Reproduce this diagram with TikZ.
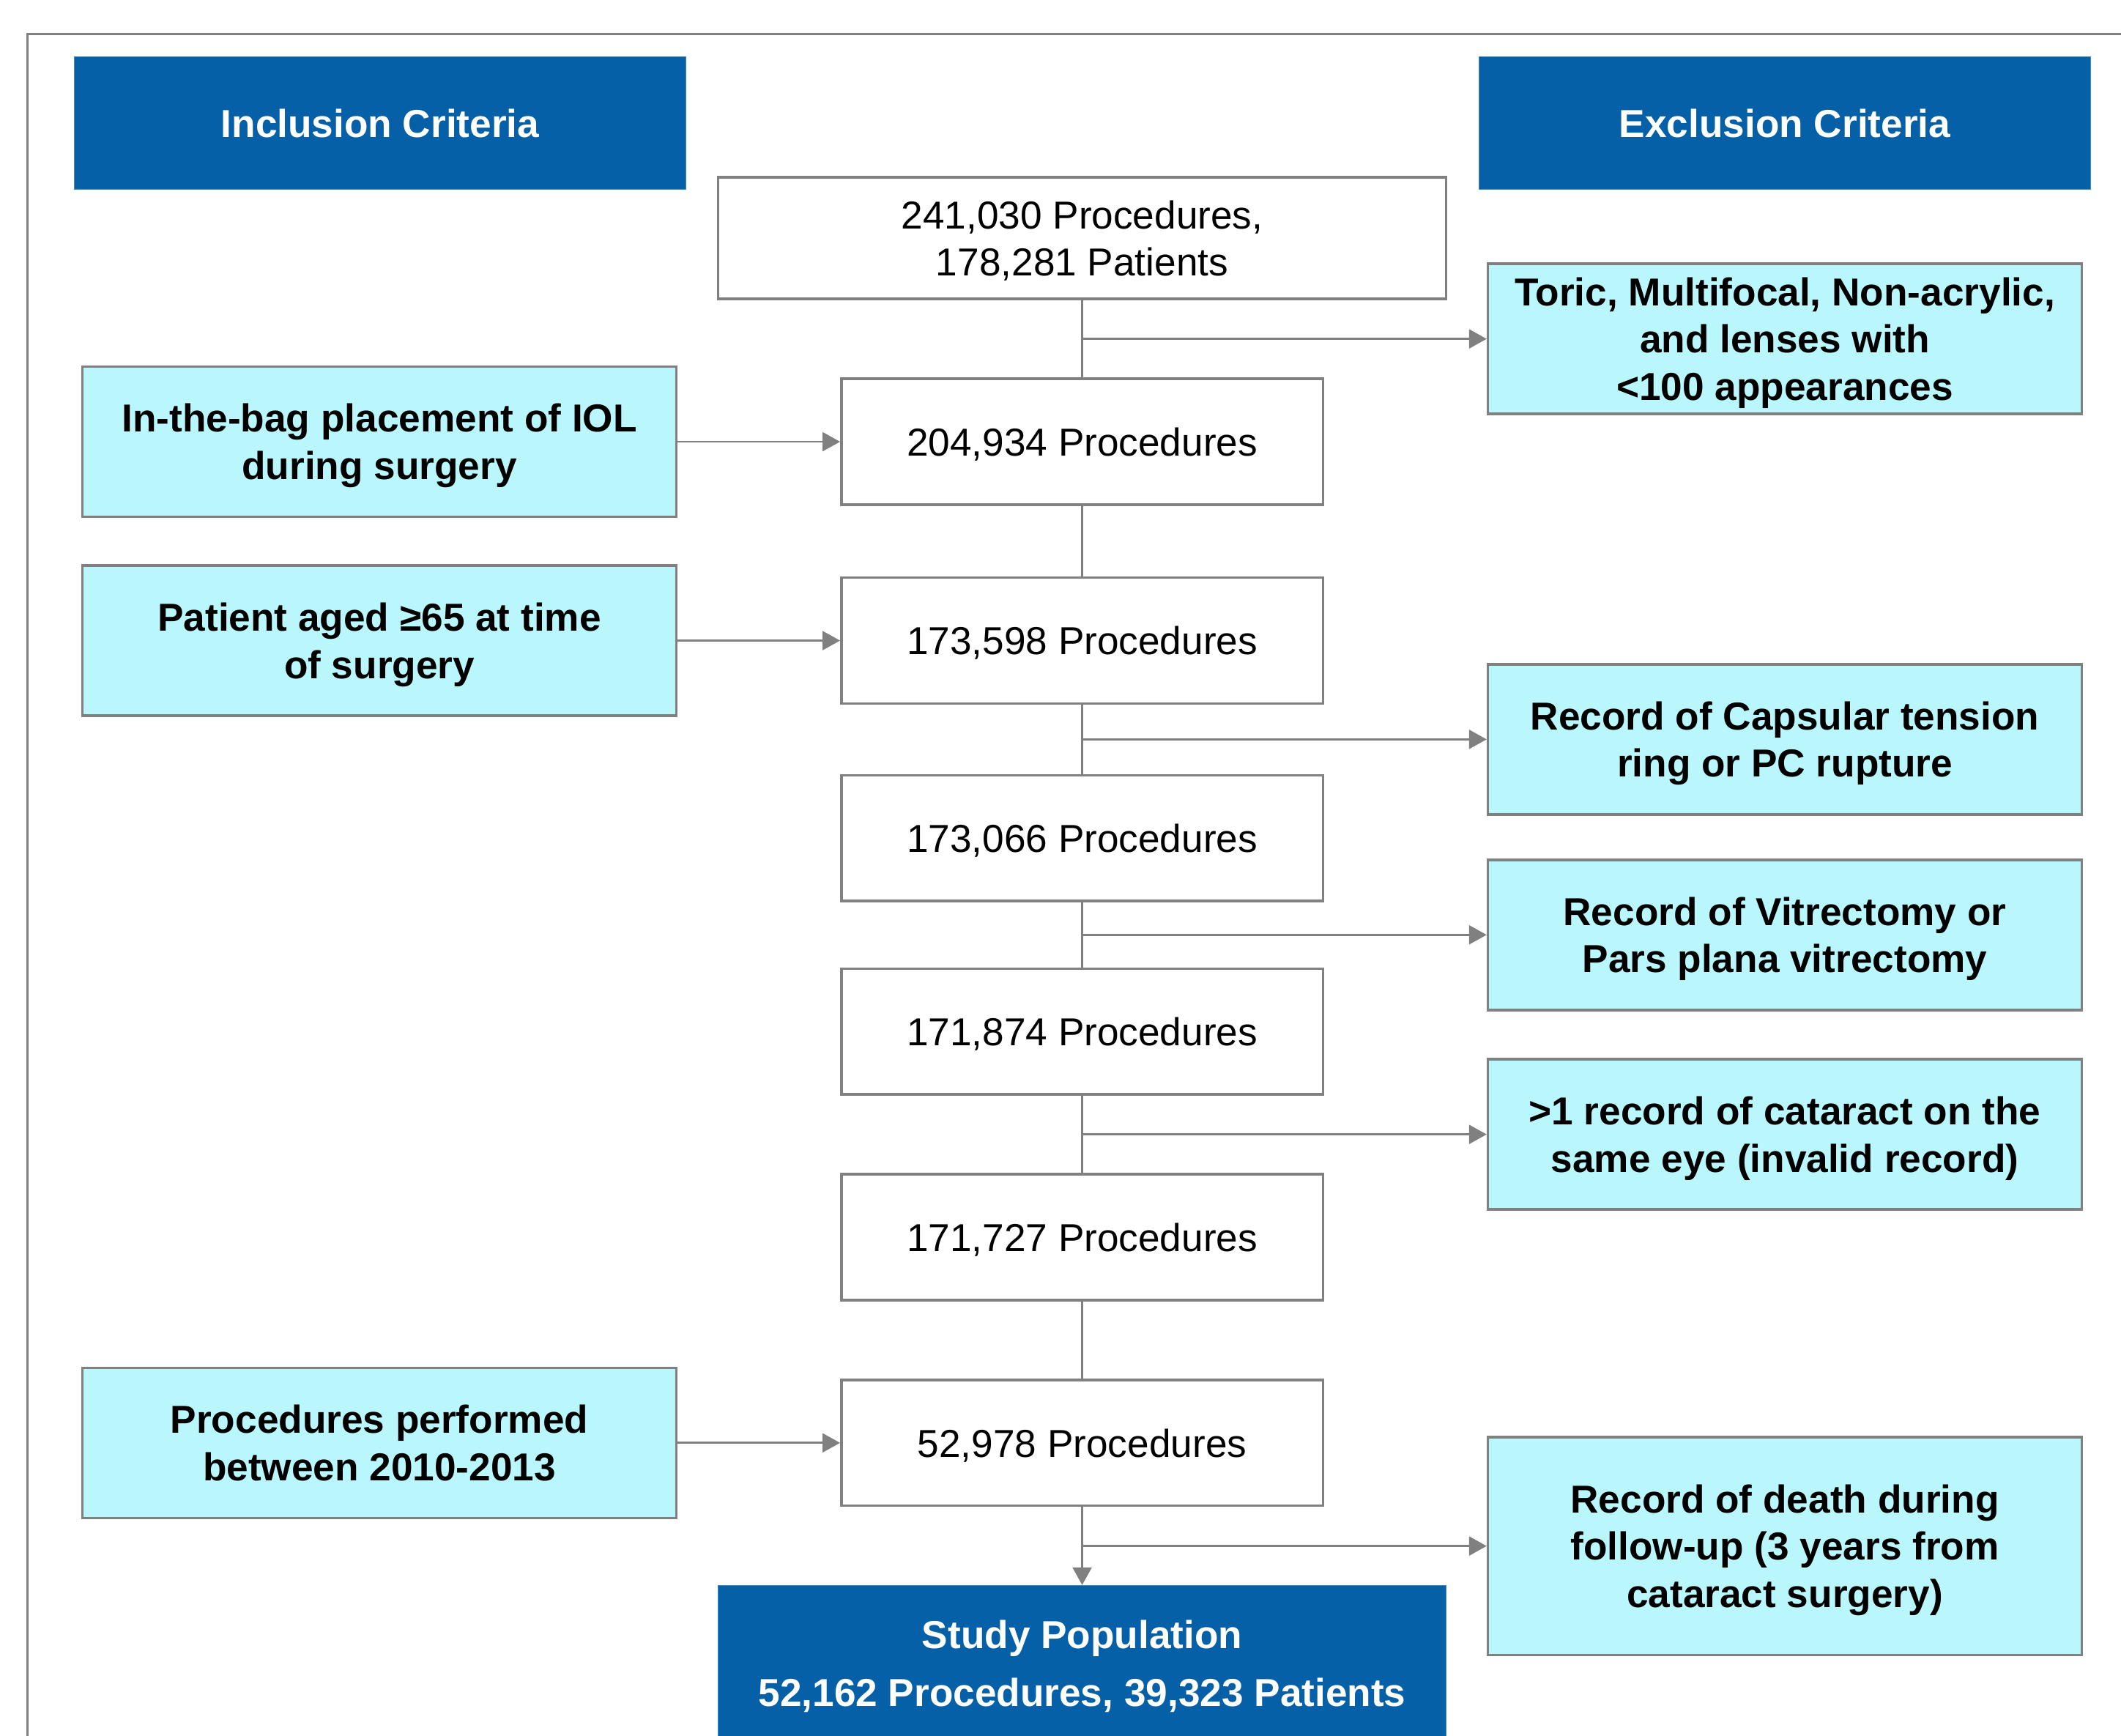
\documentclass[tikz,border=0pt]{standalone}
\usepackage{fontspec}
\setmainfont{Liberation Sans}
\usepackage{tikz}
\usepackage{xcolor}
\usetikzlibrary{shapes.geometric, arrows.meta, positioning, calc}
\definecolor{headblue}{HTML}{0560A8}
\definecolor{critcyan}{HTML}{BAF7FC}
\definecolor{linegray}{HTML}{808080}
\tikzstyle{headbox} = [rectangle, minimum width=452pt, minimum height=98pt, inner sep=0pt, text centered, text depth=0pt, draw=headblue!75!white, line width=0.8pt, fill=headblue, text=white, font=\fontsize{28.8}{35}\selectfont\bfseries]
\tikzstyle{procbox} = [rectangle, minimum width=356pt, minimum height=93pt, inner sep=0pt, align=center, text depth=0pt, draw=linegray, line width=1.9pt, fill=white, font=\fontsize{28.8}{35}\selectfont]
\tikzstyle{topbox} = [procbox, minimum width=538pt, minimum height=90pt]
\tikzstyle{critbox} = [rectangle, minimum width=439pt, minimum height=111pt, inner sep=0pt, align=center, text depth=0pt, draw=linegray, line width=1.9pt, fill=critcyan, font=\fontsize{28.8}{35}\selectfont\bfseries]
\tikzstyle{popbox} = [rectangle, minimum width=538pt, minimum height=115pt, inner sep=0pt, align=center, text depth=0pt, draw=headblue!75!white, line width=0.8pt, fill=headblue, text=white, font=\fontsize{28.8}{43}\selectfont\bfseries]
\tikzstyle{arrow} = [line width=1.5pt, -{Triangle[length=13pt, width=14pt]}, linegray]
\tikzstyle{link} = [line width=1.5pt, linegray]

\begin{document}
\begin{tikzpicture}[x=1pt, y=-1pt, node distance=519.5pt]
		\useasboundingbox (0,0) rectangle (1568,1283);
		\draw [linegray, line width=1.5pt] (20.5,1300) -- (20.5,25) -- (1580,25);
		
		\node (incl) [headbox] at (281,91) {Inclusion Criteria};
		\node (excl) [headbox] at (1319.5,91) {Exclusion Criteria};
		
		\node (total) [topbox] at (800,176) {241,030 Procedures,\\178,281 Patients};
		\node (bag) [procbox] at (800,326.5) {204,934 Procedures};
		\node (age) [procbox] at (800,473.5) {173,598 Procedures};
		\node (ring) [procbox] at (800,619.5) {173,066 Procedures};
		\node (vit) [procbox] at (800,762.5) {171,874 Procedures};
		\node (dup) [procbox] at (800,914.5) {171,727 Procedures};
		\node (year) [procbox] at (800,1066.5) {52,978 Procedures};
		\node (pop) [popbox] at (800,1229.5) {Study Population\\52,162 Procedures, 39,323 Patients};
		
		\node (inbag) [critbox, left of=bag] {In-the-bag placement of IOL\\during surgery};
		\node (aged) [critbox, left of=age] {Patient aged ≥65 at time\\of surgery};
		\node (period) [critbox, left of=year] {Procedures performed\\between 2010-2013};
		
		\coordinate (j1) at ($(total.south)!0.5!(bag.north)$);
		\coordinate (j2) at ($(age.south)!0.5!(ring.north)$);
		\coordinate (j3) at ($(ring.south)!0.5!(vit.north)$);
		\coordinate (j4) at ($(vit.south)!0.5!(dup.north)$);
		\coordinate (j5) at ($(year.south)!0.5!(pop.north)$);
		
		\node (toric) [critbox, right of=j1] {Toric, Multifocal, Non-acrylic,\\and lenses with\\<100 appearances};
		\node (capsule) [critbox, right of=j2] {Record of Capsular tension\\ring or PC rupture};
		\node (vitrec) [critbox, right of=j3] {Record of Vitrectomy or\\Pars plana vitrectomy};
		\node (twice) [critbox, right of=j4] {>1 record of cataract on the\\same eye (invalid record)};
		\node (death) [critbox, right of=j5, minimum height=161pt] {Record of death during\\follow-up (3 years from\\cataract surgery)};
		
		\draw [link] (total) -- (bag);
		\draw [link] (bag) -- (age);
		\draw [link] (age) -- (ring);
		\draw [link] (ring) -- (vit);
		\draw [link] (vit) -- (dup);
		\draw [link] (dup) -- (year);
		\draw [arrow] (year) -- (pop);
		
		\draw [arrow] (inbag) -- (bag);
		\draw [arrow] (aged) -- (age);
		\draw [arrow] (period) -- (year);
		
		\draw [arrow] (j1) -- (toric);
		\draw [arrow] (j2) -- (capsule);
		\draw [arrow] (j3) -- (vitrec);
		\draw [arrow] (j4) -- (twice);
		\draw [arrow] (j5) -- (death);
	\end{tikzpicture}
\end{document}
